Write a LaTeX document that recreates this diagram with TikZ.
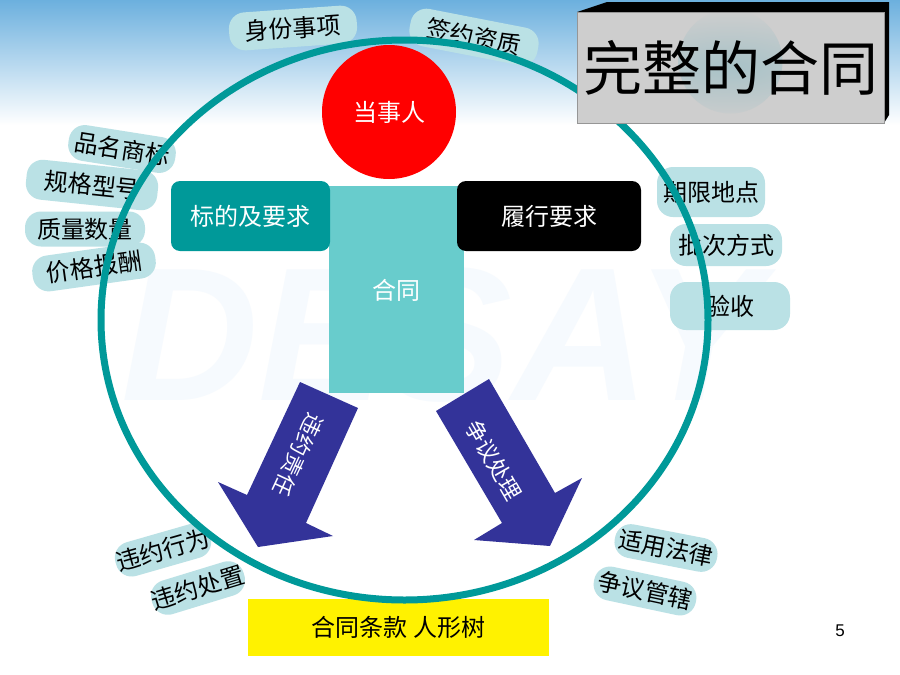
\documentclass[tikz,border=0pt]{standalone}
\usepackage{fontspec}
\setmainfont{Liberation Sans}
\newfontfamily\cjk{Noto Sans CJK SC}
\definecolor{ringc}{RGB}{0,153,153}
\definecolor{bodyc}{RGB}{104,204,204}
\definecolor{pillc}{RGB}{186,225,229}
\definecolor{arrowc}{RGB}{51,51,153}
\definecolor{bgblue}{RGB}{108,176,222}
\definecolor{wmc}{RGB}{246,250,254}
\definecolor{titlegray}{RGB}{206,206,206}
\definecolor{spotc}{RGB}{168,194,199}
\tikzset{
  pill/.style={fill=pillc, rounded corners=16pt, inner sep=0pt, text=black,
    font=\cjk\fontsize{24}{24}\selectfont},
  whitetext/.style={text=white, font=\cjk\fontsize{24}{24}\selectfont},
  arrowshape/.style={fill=arrowc},
}
\begin{document}
\begin{tikzpicture}[x=1pt,y=-1pt]
\useasboundingbox (0,0) rectangle (900,675);
\fill[white] (0,0) rectangle (900,675);
\shade[top color=bgblue, bottom color=white] (0,0) rectangle (900,125);
% watermark
\node[text=wmc, font=\fontsize{190}{190}\selectfont\bfseries\itshape] (wm) at (442,335) {DESAY};
% pills
\node[pill, minimum width=128pt, minimum height=38pt, rotate=4] (p1) at (293,28) {身份事项};
\node[pill, minimum width=130pt, minimum height=38pt, rotate=-11] (p2) at (474,37) {签约资质};
\node[pill, minimum width=108pt, minimum height=36pt, rotate=-9] (p3) at (122,149) {品名商标};
\node[pill, minimum width=132pt, minimum height=40pt, rotate=-6] (p4) at (92,185) {规格型号};
\node[pill, minimum width=120pt, minimum height=35pt] (p5) at (85,229) {质量数量};
\node[pill, minimum width=124pt, minimum height=36pt, rotate=8] (p6) at (94,267) {价格报酬};
\node[pill, minimum width=108pt, minimum height=50pt] (p7) at (711,192) {期限地点};
\node[pill, minimum width=112pt, minimum height=42pt] (p8) at (726,245) {批次方式};
\node[pill, minimum width=120pt, minimum height=48pt] (p9) at (730,306) {验收};
\node[pill, minimum width=98pt, minimum height=35pt, rotate=16] (p10) at (163,550) {违约行为};
\node[pill, minimum width=94pt, minimum height=35pt, rotate=17] (p11) at (198,588) {违约处置};
\node[pill, minimum width=104pt, minimum height=34pt, rotate=-11] (p12) at (666,548) {适用法律};
\node[pill, minimum width=104pt, minimum height=34pt, rotate=-12] (p13) at (645,591) {争议管辖};
% yellow label
\node[fill=yellow, minimum width=301pt, minimum height=57pt, inner sep=0pt,
  font=\cjk\fontsize{24}{24}\selectfont] (caption) at (398.5,627.5) {合同条款 人形树};
% ring
\draw[ringc, line width=7pt] (404.5,320) ellipse [x radius=303.5pt, y radius=280pt];
% body
\node[fill=bodyc, minimum width=135pt, minimum height=207pt, inner sep=0pt] (body) at (396.5,289.5) {};
\node[whitetext] (bodytext) at (396,290) {合同};
\node[fill=red, circle, minimum size=134pt, inner sep=0pt, whitetext] (party) at (389,112) {当事人};
\node[fill=ringc, rounded corners=9pt, minimum width=159pt, minimum height=70pt, inner sep=0pt, whitetext] (subject) at (250.5,216) {标的及要求};
\node[fill=black, rounded corners=9pt, minimum width=184pt, minimum height=70pt, inner sep=0pt, whitetext] (perform) at (549,216) {履行要求};
% arrows
\fill[arrowshape] (300,382) -- (358,408) -- (306,523) -- (333,536) -- (258,547) -- (218,482) -- (247,495) -- cycle;
\fill[arrowshape] (436,411) -- (489,379) -- (555,493) -- (582,478) -- (550,546) -- (474,540) -- (502,523) -- cycle;
\node[text=white, font=\cjk\fontsize{22}{22}\selectfont, rotate=-115] (breach) at (298,455) {违约责任};
\node[text=white, font=\cjk\fontsize{22}{22}\selectfont, rotate=-60] (dispute) at (494,460) {争议处理};
% title block
\fill[black] (577,12) -- (607,2) -- (889,2) -- (889,115) -- (884,123) -- cycle;
\node[draw={rgb,255:red,150;green,150;blue,150}, line width=1pt, fill=titlegray,
  minimum width=307pt, minimum height=111pt, inner sep=0pt,
  path picture={\shade[inner color=spotc, outer color=titlegray] (path picture bounding box.center) ++(0pt,6pt) circle (52pt);},
  font=\cjk\fontsize{59}{59}\selectfont] (title) at (730.5,67.5) {完整的合同};
% page number
\node[font=\fontsize{17}{17}\selectfont] (pagenum) at (840,631) {5};
\end{tikzpicture}
\end{document}
